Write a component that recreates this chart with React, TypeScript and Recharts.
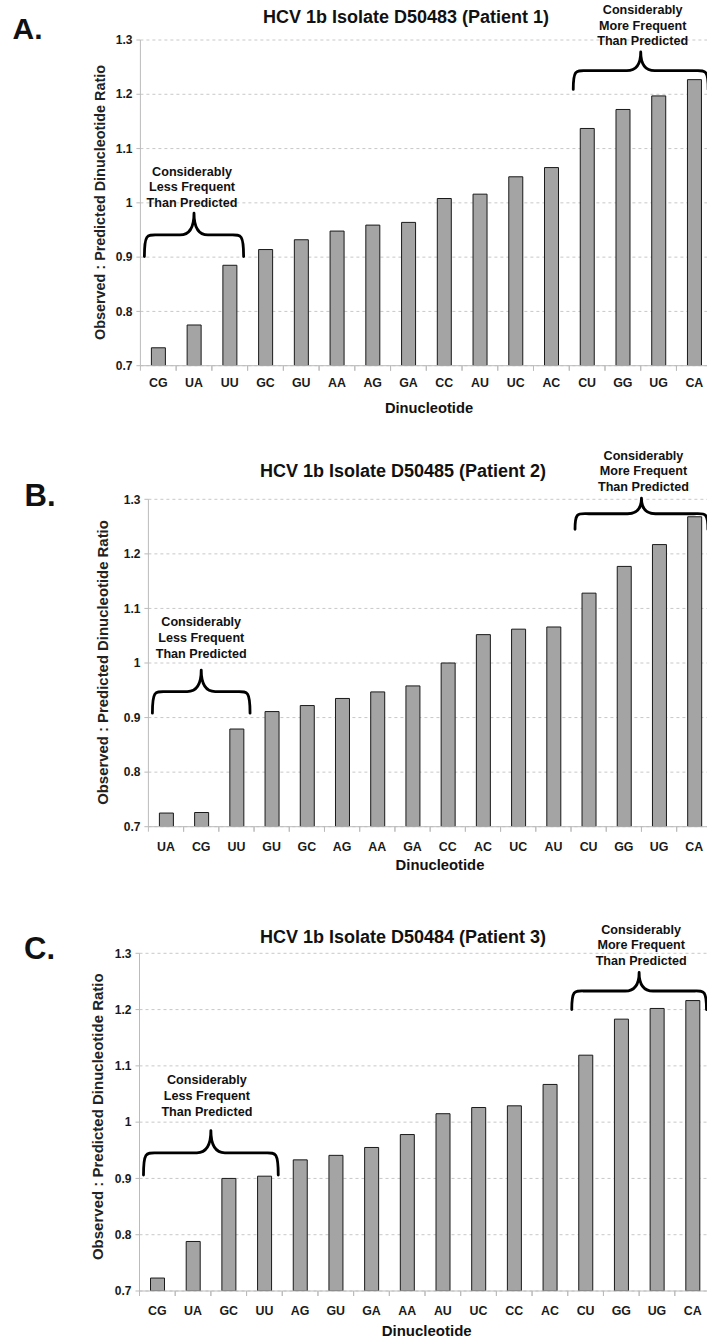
import React from "react";
import { BarChart, Bar, XAxis, YAxis, CartesianGrid, ReferenceArea } from "recharts";

const catsA = ["CG", "UA", "UU", "GC", "GU", "AA", "AG", "GA", "CC", "AU", "UC", "AC", "CU", "GG", "UG", "CA"];
const valsA = [0.733, 0.775, 0.885, 0.914, 0.932, 0.948, 0.959, 0.964, 1.008, 1.016, 1.048, 1.065, 1.137, 1.172, 1.197, 1.227];

const catsB = ["UA", "CG", "UU", "GU", "GC", "AG", "AA", "GA", "CC", "AC", "UC", "AU", "CU", "GG", "UG", "CA"];
const valsB = [0.725, 0.726, 0.879, 0.911, 0.922, 0.935, 0.947, 0.958, 1.0, 1.052, 1.062, 1.066, 1.128, 1.177, 1.217, 1.268];

const catsC = ["CG", "UA", "GC", "UU", "AG", "GU", "GA", "AA", "AU", "UC", "CC", "AC", "CU", "GG", "UG", "CA"];
const valsC = [0.723, 0.788, 0.9, 0.904, 0.933, 0.941, 0.955, 0.978, 1.015, 1.026, 1.029, 1.067, 1.119, 1.183, 1.202, 1.216];

const yTicks = [0.7, 0.8, 0.9, 1.0, 1.1, 1.2, 1.3];

const titles = [
  "HCV 1b Isolate D50483 (Patient 1)",
  "HCV 1b Isolate D50485 (Patient 2)",
  "HCV 1b Isolate D50484 (Patient 3)",
];
const letters = ["A.", "B.", "C."];
const yLabel = "Observed : Predicted Dinucleotide Ratio";
const xLabel = "Dinucleotide";
const lessLines = ["Considerably", "Less Frequent", "Than Predicted"];
const moreLines = ["Considerably", "More Frequent", "Than Predicted"];

// brace annotations: first category, last category, bottom value, peak value
const bracesA = [
  { from: "CG", to: "UU", low: 0.901, high: 0.981, lines: lessLines },
  { from: "CU", to: "CA", low: 1.209, high: 1.278, lines: moreLines },
];
const bracesB = [
  { from: "UA", to: "UU", low: 0.908, high: 0.987, lines: lessLines },
  { from: "CU", to: "CA", low: 1.245, high: 1.302, lines: moreLines },
];
const bracesC = [
  { from: "CG", to: "UU", low: 0.906, high: 0.985, lines: lessLines },
  { from: "CU", to: "CA", low: 1.2, high: 1.266, lines: moreLines },
];

const FONT = "'Liberation Sans', Arial, Helvetica, sans-serif";

const toRows = (cats: string[], vals: number[]) => cats.map((c, i) => ({ cat: c, v: vals[i] }));

type PanelCfg = {
  top: number;
  height: number;
  margin: { top: number; right: number; bottom: number; left: number };
  labelDy: number;
  gaps: number[];
  textDx: number[];
};

const panels: PanelCfg[] = [
  { top: 0, height: 430, margin: { top: 40, right: 7.8, bottom: 34.3, left: 80.4 }, labelDy: 21.5, gaps: [10.5, 11], textDx: [-2, 2] },
  { top: 430, height: 450, margin: { top: 69.3, right: 8.1, bottom: 23.3, left: 88.4 }, labelDy: 23.8, gaps: [16.7, 11.6], textDx: [0, 2] },
  { top: 880, height: 461, margin: { top: 73.3, right: 9.5, bottom: 20, left: 79.5 }, labelDy: 23.5, gaps: [19, 11.7], textDx: [-4, 2] },
];

const makeBrace = (lines: string[], gap: number, dx: number) => (props: any) => {
  const { x, y, width, height } = props;
  const x0 = x + 4;
  const x1 = x + width - 4;
  const xc = (x0 + x1) / 2;
  const yT = y;
  const yB = y + height;
  const yM = (yT + yB) / 2;
  const r = 14;
  const d = `M ${x0} ${yB} C ${x0} ${yM - 2} ${x0 + 3} ${yM} ${x0 + r} ${yM} L ${xc - r} ${yM} Q ${xc} ${yM} ${xc} ${yT} Q ${xc} ${yM} ${xc + r} ${yM} L ${x1 - r} ${yM} C ${x1 - 3} ${yM} ${x1} ${yM - 2} ${x1} ${yB}`;
  const lh = 15.8;
  const lastBase = yT - gap + 4.5;
  return (
    <g>
      <path d={d} fill="none" stroke="#000" strokeWidth={2.8} strokeLinejoin="round" strokeLinecap="round" />
      {lines.map((t, i) => (
        <text
          key={i}
          x={xc + dx}
          y={lastBase - (lines.length - 1 - i) * lh}
          textAnchor="middle"
          fontFamily={FONT}
          fontWeight="bold"
          fontSize={12.6}
          fill="#111"
        >
          {t}
        </text>
      ))}
    </g>
  );
};

const XTick = (labelDy: number) => (props: any) => {
  const { x, y, payload } = props;
  const half = payload && payload.offset ? payload.offset : 17.8;
  return (
    <g>
      <line x1={x - half} x2={x - half} y1={y} y2={y + 5} stroke="#bbb" strokeWidth={1} />
      <line x1={x + half} x2={x + half} y1={y} y2={y + 5} stroke="#bbb" strokeWidth={1} />
      <text x={x} y={y + labelDy} textAnchor="middle" fontFamily={FONT} fontWeight="bold" fontSize={12.4} fill="#1a1a1a">
        {payload.value}
      </text>
    </g>
  );
};

const YTick = (props: any) => {
  const { x, y, payload } = props;
  const v = Number(payload.value);
  const s = Math.abs(v - 1) < 1e-9 ? "1" : v.toFixed(1);
  return (
    <text x={x} y={y + 4.2} textAnchor="end" fontFamily={FONT} fontWeight="bold" fontSize={12} fill="#1a1a1a">
      {s}
    </text>
  );
};

const Panel = ({ cfg, cats, vals, braces }: { cfg: PanelCfg; cats: string[]; vals: number[]; braces: any[] }) => {
  const data = toRows(cats, vals);
  return (
    <div style={{ position: "absolute", left: 0, top: cfg.top, width: 720, height: cfg.height }}>
      <BarChart width={720} height={cfg.height} data={data} margin={cfg.margin}>
        <CartesianGrid horizontal vertical={false} stroke="#c8c8c8" strokeDasharray="3 3" />
        <XAxis
          dataKey="cat"
          type="category"
          interval={0}
          height={30}
          axisLine={{ stroke: "#bbb" }}
          tickLine={false}
          tickSize={0}
          tickMargin={0}
          tick={XTick(cfg.labelDy)}
        />
        <YAxis
          type="number"
          domain={[0.7, 1.3]}
          ticks={yTicks}
          allowDataOverflow
          width={60}
          axisLine={{ stroke: "#bbb" }}
          tickLine={{ stroke: "#bbb" }}
          tickSize={4}
          tickMargin={4}
          tick={YTick}
        />
        <Bar dataKey="v" fill="#a4a4a4" stroke="#1a1a1a" strokeWidth={1} barSize={14} isAnimationActive={false} />
        {braces.map((b, i) => (
          <ReferenceArea
            key={i}
            x1={b.from}
            x2={b.to}
            y1={b.low}
            y2={b.high}
            ifOverflow="visible"
            shape={makeBrace(b.lines, cfg.gaps[i], cfg.textDx[i])}
          />
        ))}
      </BarChart>
    </div>
  );
};

const overlayText = [
  { t: letters[0], x: 12.5, y: 39, size: 30, anchor: "start" },
  { t: letters[1], x: 24.5, y: 506, size: 31, anchor: "start" },
  { t: letters[2], x: 24, y: 959, size: 31, anchor: "start" },
  { t: titles[0], x: 406, y: 22.7, size: 18, anchor: "middle" },
  { t: titles[1], x: 403, y: 476.7, size: 18, anchor: "middle" },
  { t: titles[2], x: 403, y: 943.3, size: 18, anchor: "middle" },
  { t: xLabel, x: 429, y: 413.3, size: 14.7, anchor: "middle" },
  { t: xLabel, x: 440, y: 870, size: 14.8, anchor: "middle" },
  { t: xLabel, x: 426.7, y: 1336, size: 15, anchor: "middle" },
];

const yLabels = [
  { x: 105, y: 202.5, size: 14.4 },
  { x: 107.5, y: 662.5, size: 14.9 },
  { x: 103, y: 1116.7, size: 15 },
];

export default function App() {
  return (
    <div style={{ position: "relative", width: 707, height: 1341, overflow: "hidden", background: "#fff" }}>
      <style>{"body{margin:0;overflow:hidden;background:#fff}"}</style>
      <Panel cfg={panels[0]} cats={catsA} vals={valsA} braces={bracesA} />
      <Panel cfg={panels[1]} cats={catsB} vals={valsB} braces={bracesB} />
      <Panel cfg={panels[2]} cats={catsC} vals={valsC} braces={bracesC} />
      <svg
        width={707}
        height={1341}
        style={{ position: "absolute", left: 0, top: 0, pointerEvents: "none" }}
      >
        {overlayText.map((o, i) => (
          <text
            key={i}
            x={o.x}
            y={o.y}
            textAnchor={o.anchor as any}
            fontFamily={FONT}
            fontWeight="bold"
            fontSize={o.size}
            fill="#111"
          >
            {o.t}
          </text>
        ))}
        {yLabels.map((l, i) => (
          <text
            key={"y" + i}
            x={l.x}
            y={l.y}
            transform={`rotate(-90 ${l.x} ${l.y})`}
            textAnchor="middle"
            fontFamily={FONT}
            fontWeight="bold"
            fontSize={l.size}
            fill="#222"
          >
            {yLabel}
          </text>
        ))}
      </svg>
    </div>
  );
}
